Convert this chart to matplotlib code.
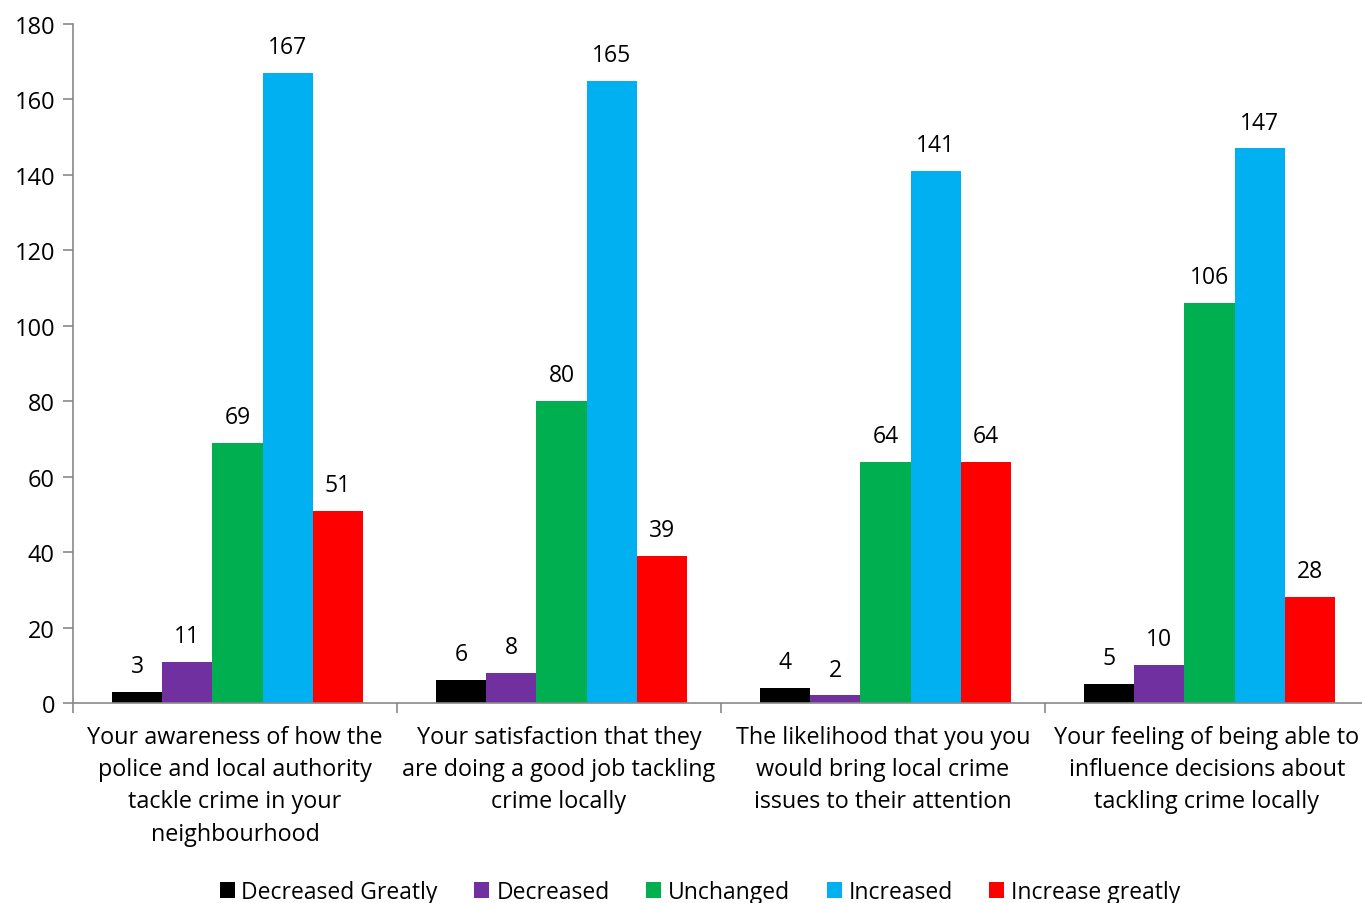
import numpy as np
import matplotlib.pyplot as plt
from matplotlib.patches import Patch

plt.rcParams['font.family'] = ['Open Sans', 'DejaVu Sans']

# data
categories = ['Your awareness of how the\npolice and local authority\ntackle crime in your\nneighbourhood',
              'Your satisfaction that they\nare doing a good job tackling\ncrime locally',
              'The likelihood that you you\nwould bring local crime\nissues to their attention',
              'Your feeling of being able to\ninfluence decisions about\ntackling crime locally']
series = ['Decreased Greatly', 'Decreased', 'Unchanged', 'Increased', 'Increase greatly']
decreased_greatly = [3, 6, 4, 5]
decreased = [11, 8, 2, 10]
unchanged = [69, 80, 64, 106]
increased = [167, 165, 141, 147]
increase_greatly = [51, 39, 64, 28]
colors = ['#000000', '#7030a0', '#00b050', '#00b0f0', '#ff0000']

values = [decreased_greatly, decreased, unchanged, increased, increase_greatly]

fig = plt.figure(figsize=(13.62, 9.04), dpi=100)
ax = fig.add_axes([73 / 1362, 1 - 704 / 904, 1296 / 1362, 679 / 904])

x = np.arange(len(categories))
w = 0.155
for i, (vals, col) in enumerate(zip(values, colors)):
    pos = x + (i - 2) * w + 0.008
    ax.bar(pos, vals, width=w, color=col, zorder=2)
    for px, v in zip(pos, vals):
        ax.annotate(str(v), (px, v), xytext=(0, 10), textcoords='offset points',
                    ha='center', va='bottom', fontsize=16.5)

gray = '#898989'
ax.set_ylim(0, 180)
ax.set_yticks(range(0, 181, 20))
ax.set_xlim(-0.5, 3.5)
ax.set_xticks(x)
ax.set_xticklabels(categories, fontsize=16.8, linespacing=1.45)
ax.set_xticks(np.arange(-0.5, 4, 1), minor=True)
ax.tick_params(axis='x', which='major', length=0, pad=16)
ax.tick_params(axis='x', which='minor', length=7, color=gray, width=1.2)
ax.tick_params(axis='y', length=7, color=gray, width=1.2, labelsize=17, pad=6)
for s in ['top', 'right']:
    ax.spines[s].set_visible(False)
for s in ['left', 'bottom']:
    ax.spines[s].set_color(gray)
    ax.spines[s].set_linewidth(1.2)

handles = [Patch(facecolor=c, label=s) for c, s in zip(colors, series)]
fig.legend(handles=handles, loc='lower center', bbox_to_anchor=(0.514, -0.024), ncol=5,
           frameon=False, fontsize=16.5, handlelength=0.65, handleheight=0.65,
           handletextpad=0.3, columnspacing=1.6)

fig.savefig('out.png', dpi=100)
